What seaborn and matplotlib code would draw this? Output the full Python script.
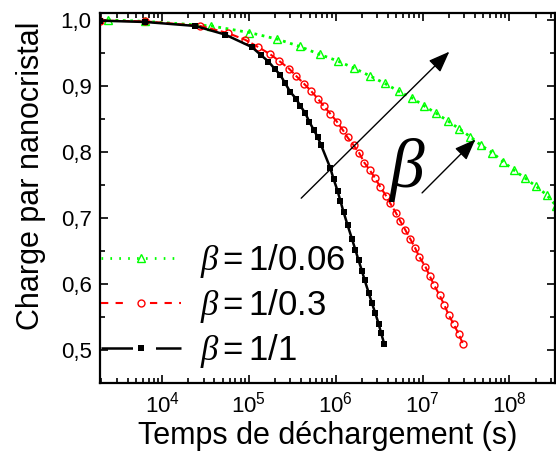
import matplotlib
matplotlib.use("Agg")
import matplotlib.pyplot as plt
import matplotlib.ticker as mticker
from matplotlib.lines import Line2D
import seaborn as sns
import numpy as np

# (temps en s, charge normalisée)
t_b1 = [1.93e3, 6.4e3, 2.4e4, 5.3e4, 1.08e5, 1.37e5, 1.68e5, 2.01e5, 2.29e5, 2.62e5,
        2.99e5, 3.48e5, 3.90e5, 4.45e5, 4.95e5, 5.55e5, 6.17e5, 6.75e5, 8.64e5,
        9.44e5, 1.05e6, 1.13e6, 1.23e6, 1.37e6, 1.54e6, 1.68e6, 1.83e6, 2.00e6,
        2.15e6, 2.39e6, 2.61e6, 2.85e6, 3.11e6, 3.34e6, 3.62e6]
q_b1 = [0.999, 0.997, 0.991, 0.978, 0.959, 0.947, 0.937, 0.925, 0.917, 0.904,
        0.891, 0.881, 0.870, 0.859, 0.846, 0.834, 0.823, 0.811, 0.776,
        0.759, 0.741, 0.726, 0.709, 0.689, 0.668, 0.652, 0.636, 0.620,
        0.606, 0.587, 0.571, 0.556, 0.540, 0.525, 0.509]

t_b03 = [1.93e3, 6.4e3, 2.74e4, 5.77e4, 9.06e4, 1.28e5, 1.76e5, 2.23e5, 2.91e5,
         3.51e5, 4.34e5, 5.15e5, 6.28e5, 7.36e5, 8.65e5, 1.03e6, 1.21e6, 1.37e6,
         1.61e6, 1.87e6, 2.13e6, 2.45e6, 2.85e6, 3.26e6, 3.82e6, 4.25e6, 4.92e6,
         5.55e6, 6.32e6, 7.23e6, 8.24e6, 9.18e6, 1.08e7, 1.21e7, 1.36e7, 1.57e7,
         1.78e7, 2.00e7, 2.28e7, 2.61e7, 2.92e7]
q_b03 = [0.999, 0.998, 0.991, 0.980, 0.970, 0.959, 0.948, 0.938, 0.926,
         0.915, 0.903, 0.893, 0.880, 0.869, 0.858, 0.846, 0.833, 0.822,
         0.810, 0.798, 0.784, 0.773, 0.760, 0.747, 0.733, 0.722, 0.708,
         0.695, 0.682, 0.668, 0.654, 0.641, 0.626, 0.612, 0.598, 0.583,
         0.568, 0.553, 0.539, 0.524, 0.509]

t_b006 = [2.39e3, 6.4e3, 3.67e4, 1.01e5, 2.12e5, 3.83e5, 6.50e5, 1.05e6, 1.63e6,
          2.50e6, 3.66e6, 5.32e6, 7.52e6, 1.04e7, 1.42e7, 1.96e7, 2.65e7, 3.55e7,
          4.73e7, 6.34e7, 8.53e7, 1.14e8, 1.53e8, 2.03e8, 2.69e8, 3.48e8]
q_b006 = [1.000, 0.998, 0.991, 0.981, 0.971, 0.960, 0.948, 0.938, 0.927,
          0.915, 0.904, 0.892, 0.882, 0.870, 0.859, 0.847, 0.835, 0.823,
          0.810, 0.799, 0.785, 0.772, 0.760, 0.748, 0.735, 0.718]

labels = [r"$\beta=$1/0.06", r"$\beta=$1/0.3", r"$\beta=$1/1"]

sns.set_style("ticks")
plt.rcParams["font.family"] = ["Liberation Sans", "DejaVu Sans"]
plt.rcParams["mathtext.fontset"] = "custom"
plt.rcParams["mathtext.rm"] = "Liberation Sans"
plt.rcParams["mathtext.it"] = "Liberation Serif:italic"
plt.rcParams["mathtext.bf"] = "Liberation Sans:bold"
for k in ["text.color", "axes.labelcolor", "xtick.color", "ytick.color", "axes.edgecolor"]:
    plt.rcParams[k] = "black"

fig = plt.figure(figsize=(5.56, 4.58), dpi=100)
ax = fig.add_axes([0.18, 0.1638, 0.819, 0.8078])

green_kw = dict(color="#00ff00", linestyle=":", linewidth=2, marker="^", markersize=5.5,
                markerfacecolor="none", markeredgecolor="#00ff00", markeredgewidth=1)
red_kw = dict(color="red", linestyle="--", linewidth=1.5, marker="o", markersize=5,
              markerfacecolor="none", markeredgecolor="red", markeredgewidth=1)
black_kw = dict(color="black", linestyle="-", linewidth=1.8, marker="s", markersize=4.5,
                markeredgewidth=0)

sns.lineplot(x=t_b006, y=q_b006, ax=ax, sort=False, **green_kw)
sns.lineplot(x=t_b03, y=q_b03, ax=ax, sort=False, **red_kw)
sns.lineplot(x=t_b1, y=q_b1, ax=ax, sort=False, **black_kw)

ax.set_xscale("log")
ax.set_xlim(1.93e3, 3.39e8)
ax.set_ylim(0.45, 1.0106)
ax.xaxis.set_major_locator(mticker.LogLocator(base=10, numticks=10))
ax.xaxis.set_minor_locator(mticker.LogLocator(base=10, subs=np.arange(2, 10), numticks=20))
ax.xaxis.set_minor_formatter(mticker.NullFormatter())
ax.yaxis.set_major_locator(mticker.MultipleLocator(0.1))
ax.yaxis.set_minor_locator(mticker.MultipleLocator(0.05))
ax.yaxis.set_major_formatter(mticker.FuncFormatter(lambda v, p: f"{v:.1f}".replace(".", ",")))

ax.tick_params(which="both", direction="in", top=True, right=True, width=1.2, labelsize=16,
               color="black")
ax.tick_params(which="major", length=6, pad=6)
ax.tick_params(which="minor", length=3.5)
for s in ax.spines.values():
    s.set_linewidth(1.6)
    s.set_color("black")

ax.set_xlabel("Temps de déchargement (s)", fontsize=22, labelpad=3)
ax.set_ylabel("Charge par nanocristal", fontsize=22)
ax.yaxis.set_label_coords(-0.118, 0.56)

ax.annotate("", xy=(10**7.308, 0.952), xytext=(10**5.602, 0.730),
            arrowprops=dict(arrowstyle="-|>,head_length=1.3,head_width=0.5", color="black",
                            lw=1, shrinkA=0, shrinkB=0))
ax.annotate("", xy=(10**7.608, 0.819), xytext=(10**6.994, 0.738),
            arrowprops=dict(arrowstyle="-|>,head_length=1.3,head_width=0.5", color="black",
                            lw=1, shrinkA=0, shrinkB=0))
ax.text(10**6.813, 0.773, r"$\beta$", fontsize=50, ha="center", va="center")

# poignées de légende façon Origin (trait interrompu autour du symbole)
handles = [
    Line2D([], [], **{**green_kw, "linestyle": (0, (0.6, 2.6))}),
    Line2D([], [], **{**red_kw, "linestyle": (0, (3.5, 3.5, 3.5, 13, 3.5, 3.5))}),
    Line2D([], [], **{**black_kw, "linestyle": (0, (12.6, 9.2))}),
]
leg = ax.legend(handles, labels, loc="lower left", frameon=False, fontsize=25,
                handlelength=2.3, handletextpad=0.55, labelspacing=0.2,
                borderaxespad=0.0, borderpad=0.0, bbox_to_anchor=(0.003, 0.035))

fig.savefig("out.png", dpi=100)
